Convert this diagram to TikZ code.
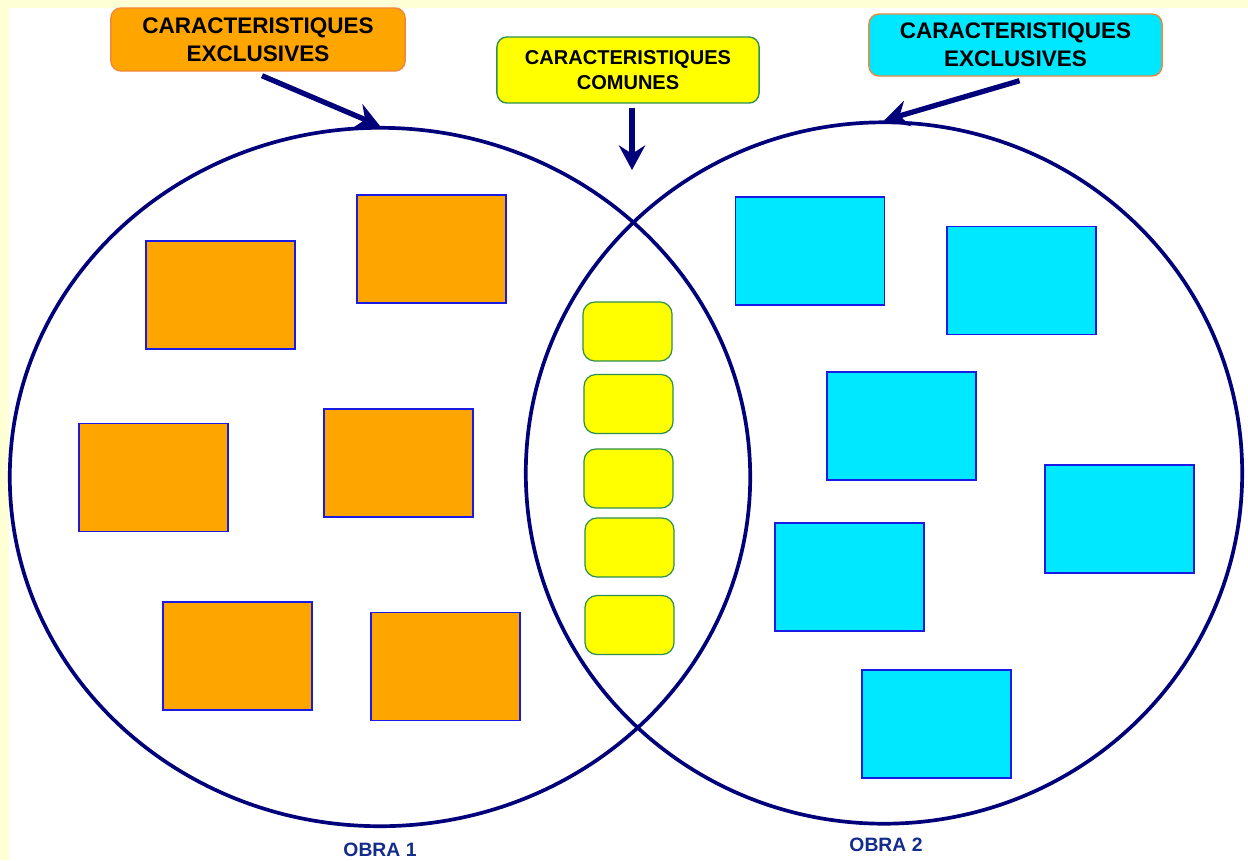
\documentclass[tikz,border=0pt]{standalone}
\usepackage{fontspec}
\setmainfont{Liberation Sans}
\usetikzlibrary{shapes.geometric,arrows.meta}

\definecolor{pagebg}{HTML}{FFFFD5}
\definecolor{navyline}{HTML}{00007A}
\definecolor{obratext}{HTML}{142C8C}
\definecolor{boxorange}{HTML}{FFA500}
\definecolor{boxcyan}{HTML}{00E8FF}
\definecolor{boxyellow}{HTML}{FFFF00}
\definecolor{lblrim}{HTML}{F0883C}
\definecolor{greenrim}{HTML}{2E9050}
\definecolor{bluerim}{HTML}{1A1AE6}

\tikzset{
  setline/.style={draw=navyline, line width=1.05pt, ellipse, inner sep=0pt},
  lblbox/.style={rounded corners=0.1cm, line width=0.4pt, align=center, inner sep=0pt,
    font=\fontsize{6.4}{7.9}\selectfont\bfseries},
  itembox/.style={draw=bluerim, line width=0.35pt, minimum width=1.49cm, minimum height=1.08cm, inner sep=0pt},
  commonbox/.style={draw=greenrim, fill=boxyellow, line width=0.35pt, rounded corners=0.12cm,
    minimum width=0.89cm, minimum height=0.59cm, inner sep=0pt},
  pointer/.style={draw=navyline, line width=1.5pt, -{Stealth[length=7pt,width=7.5pt,inset=2.4pt]}},
  obralbl/.style={text=obratext, inner sep=0pt, font=\fontsize{5.5}{6.5}\selectfont\bfseries}
}

\begin{document}
\begin{tikzpicture}[x=0.01cm,y=-0.01cm]
  \useasboundingbox (0,0) rectangle (1248,860);
  \fill[pagebg] (0,0) rectangle (1248,860);
  \fill[white] (9,8) rectangle (1248,860);

  % the two sets
  \node[setline, minimum width=7.4cm, minimum height=6.98cm] (obraA) at (380,477) {};
  \node[setline, minimum width=7.16cm, minimum height=7.01cm] (obraB) at (884,473) {};

  % headings
  \node[lblbox, fill=boxorange, draw=lblrim, minimum width=2.94cm, minimum height=0.63cm] (exclA) at (258,39.5) {CARACTERISTIQUES\\EXCLUSIVES};
  \node[lblbox, fill=boxyellow, draw=greenrim, minimum width=2.62cm, minimum height=0.66cm,
    font=\fontsize{5.7}{7.1}\selectfont\bfseries] (comu) at (628,70) {CARACTERISTIQUES\\COMUNES};
  \node[lblbox, fill=boxcyan, draw=lblrim, minimum width=2.93cm, minimum height=0.62cm] (exclB) at (1015.5,45) {CARACTERISTIQUES\\EXCLUSIVES};
  \coordinate (comuTip) at (632,170);

  % obra 1 items
  \node[itembox, fill=boxorange] (oa1) at (220.5,295) {};
  \node[itembox, fill=boxorange] (oa2) at (431.5,249) {};
  \node[itembox, fill=boxorange] (oa3) at (153.5,477.5) {};
  \node[itembox, fill=boxorange] (oa4) at (398.5,463) {};
  \node[itembox, fill=boxorange] (oa5) at (237.5,656) {};
  \node[itembox, fill=boxorange] (oa6) at (445.5,666.5) {};

  % obra 2 items
  \node[itembox, fill=boxcyan] (ob1) at (810,251) {};
  \node[itembox, fill=boxcyan] (ob2) at (1021.5,280.5) {};
  \node[itembox, fill=boxcyan] (ob3) at (901.5,426) {};
  \node[itembox, fill=boxcyan] (ob4) at (1119.5,519) {};
  \node[itembox, fill=boxcyan] (ob5) at (849.5,577) {};
  \node[itembox, fill=boxcyan] (ob6) at (936.5,724) {};

  % common items
  \node[commonbox] (cm1) at (627.5,331.5) {};
  \node[commonbox] (cm2) at (628.5,404) {};
  \node[commonbox] (cm3) at (628.5,478.5) {};
  \node[commonbox] (cm4) at (629.5,547.5) {};
  \node[commonbox] (cm5) at (629.5,625) {};

  % arrows
  \draw[pointer] ([shift={(4,4)}]exclA.south) -- (obraA.north);
  \draw[pointer] ([shift={(4,4)}]comu.south) -- (comuTip);
  \draw[pointer] ([shift={(4,4)}]exclB.south) -- (obraB.north);

  \node[obralbl] (nameA) at (380,850) {OBRA 1};
  \node[obralbl] (nameB) at (886,845) {OBRA 2};
\end{tikzpicture}
\end{document}
